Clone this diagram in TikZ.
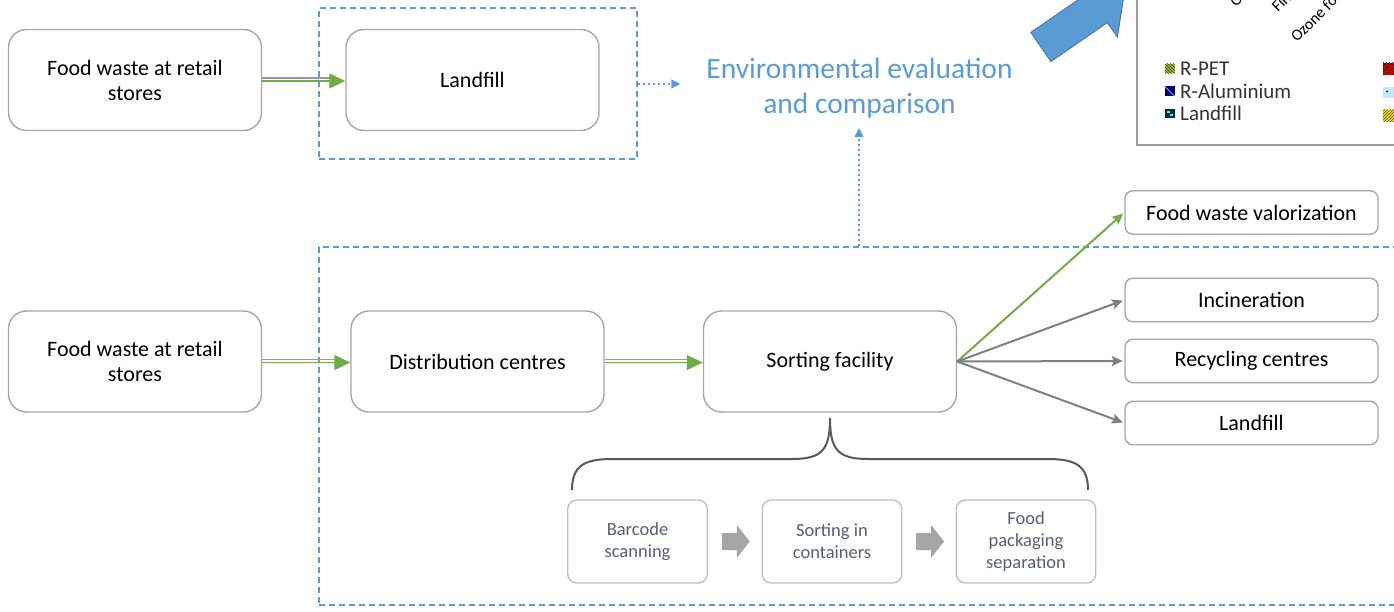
\documentclass[tikz,border=0pt]{standalone}
\usepackage{fontspec}
\setmainfont{Carlito}
\usetikzlibrary{arrows.meta,patterns,calc}
\definecolor{boxgray}{HTML}{A6A6A6}
\definecolor{lightbox}{HTML}{BFBFBF}
\definecolor{dblue}{HTML}{5B9BD5}
\definecolor{agreen}{HTML}{70AD47}
\definecolor{agray}{HTML}{7F7F7F}
\definecolor{stepgray}{HTML}{A5A5A5}
\definecolor{steptext}{HTML}{556070}
\definecolor{bracegray}{HTML}{595959}
\definecolor{arrowedge}{HTML}{41719C}
\definecolor{framegray}{HTML}{9E9E9E}
\definecolor{legtext}{HTML}{333333}
\begin{document}
\begin{tikzpicture}[x=1pt,y=-1pt,
  mainbox/.style={draw=boxgray, line width=1.4pt, rounded corners=18pt, fill=white,
    minimum width=253pt, minimum height=101pt, inner sep=0pt, align=center,
    font=\fontsize{22}{25}\selectfont},
  sidebox/.style={draw=boxgray, line width=1.4pt, rounded corners=8pt, fill=white,
    minimum width=253pt, minimum height=43.5pt, inner sep=0pt, align=center,
    font=\fontsize{22}{25}\selectfont},
  stepbox/.style={draw=lightbox, line width=1.4pt, rounded corners=9pt, fill=white,
    minimum width=139.5pt, minimum height=83pt, inner sep=0pt, align=center,
    text=steptext, font=\fontsize{18.5}{22}\selectfont},
  frame/.style={draw=dblue, line width=1.3pt, dash pattern=on 6pt off 4pt, inner sep=0pt},
  dotarrow/.style={draw=dblue, line width=1.1pt, dash pattern=on 2.5pt off 2.5pt,
    -{Triangle[length=9pt,width=9pt,fill=dblue]}},
  fangray/.style={draw=agray, line width=2pt, shorten >=1.5pt,
    -{Stealth[length=11pt,width=10pt,inset=2pt]}},
  fangreen/.style={draw=agreen, line width=2pt, shorten >=1.5pt,
    -{Stealth[length=11pt,width=10pt,inset=2pt]}},
  dgray/.style={draw=agray!80, line width=1.3pt},
  dgreen/.style={draw=agreen, line width=1.3pt, -{Triangle[length=16pt,width=15pt]}},
  legend/.style={anchor=base west, inner sep=0pt, text=legtext, font=\fontsize{21}{24}\selectfont},
  rotlabel/.style={anchor=base west, inner sep=0pt, rotate=45, font=\fontsize{16}{18}\selectfont}
]
\useasboundingbox (0,0) rectangle (1394,612);
\clip (0,0) rectangle (1394,612);

% ---------- chart fragment (top right) ----------
\draw[framegray, line width=2.2pt] (1137,-5) -- (1137,145) -- (1400,145);
\node[rotlabel] (oz1) at (1236,8) {Oz};
\node[rotlabel] (fin) at (1278,13) {Fin};
\node[rotlabel] (oz2) at (1297,43) {Ozone for};
% legend squares
\fill[olive!55!green!70!white] (1165,64) rectangle (1174.5,73.5);
\fill[pattern=north west lines, pattern color=olive!60!black] (1165,64) rectangle (1174.5,73.5);
\fill[blue!40!black] (1165,86.5) rectangle (1174.5,96);
\draw[blue!40!white, line width=1pt] (1165,86.5) -- (1174.5,96);
\fill[teal!40!black] (1165,109) rectangle (1174.5,118.5);
\fill[cyan!50!white] (1167,111) rectangle (1169.5,113.5);
\fill[cyan!50!white] (1170,114) rectangle (1172.5,116.5);
\node[legend] (lpet) at (1180,76) {R-PET};
\node[legend] (lal) at (1180,98.5) {R-Aluminium};
\node[legend] (llf) at (1180,121) {Landfill};
\fill[red] (1383,63) rectangle (1400,75);
\fill[pattern=north east lines, pattern color=black] (1383,63) rectangle (1400,75);
\fill[cyan!25!white] (1383,87) rectangle (1400,98);
\fill[blue!50!black] (1387,91.5) circle (1pt);
\fill[yellow!80!orange] (1383,110) rectangle (1400,122);
\fill[pattern=north east lines, pattern color=black!70] (1383,110) rectangle (1400,122);

% blue block arrow
\filldraw[fill=dblue, draw=arrowedge, line width=0.8pt]
  (1030.8,32.4) -- (1050.9,61.6) -- (1107.4,22.6) -- (1117.4,37.2) -- (1125,-11)
  -- (1077.3,-21.2) -- (1087.3,-6.6) -- cycle;

% ---------- frames ----------
\node[frame, minimum width=318pt, minimum height=151pt] (topframe) at (478,83.5) {};
\node[frame, minimum width=1111pt, minimum height=358pt] (bigframe) at (874.5,426) {};

% ---------- top row ----------
\node[mainbox] (fw1) at (135,80) {Food waste at retail\\stores};
\node[mainbox] (lf1) at (472.5,80) {Landfill};
\node[align=center, text=dblue, inner ysep=0pt, inner xsep=26pt,
      font=\fontsize{29.5}{35}\selectfont] (env) at (859.5,88) {Environmental evaluation\\and comparison};
\coordinate (envtip) at (859,128);

\draw[dgray] ([yshift=2pt]fw1.east) -- ([yshift=2pt,xshift=-14pt]lf1.west);
\draw[dgreen] ([yshift=-1pt]fw1.east) -- ([yshift=-1pt]lf1.west);
\draw[dotarrow] ([yshift=-0.5pt]topframe.east) -- ([yshift=-0.5pt]topframe.east -| env.west);
\draw[dotarrow] (bigframe.north -| envtip) -- (envtip);

% ---------- bottom row ----------
\node[mainbox] (fw2) at (135,361.5) {Food waste at retail\\stores};
\node[mainbox] (dc) at (477.5,361.5) {Distribution centres};
\node[mainbox] (sf) at (830,361.5) {Sorting facility};

\node[sidebox] (val) at (1251.5,212.5) {Food waste valorization};
\node[sidebox] (inc) at (1251.5,300) {Incineration};
\node[sidebox] (rec) at (1251.5,361) {Recycling centres};
\node[sidebox] (lf2) at (1251.5,423) {Landfill};

\draw[dgray] ([yshift=2pt]fw2.east) -- ([yshift=2pt,xshift=-14pt]dc.west);
\draw[dgreen] ([yshift=-1pt]fw2.east) -- ([yshift=-1pt]dc.west);
\draw[dgray] ([yshift=2pt]dc.east) -- ([yshift=2pt,xshift=-14pt]sf.west);
\draw[dgreen] ([yshift=-1pt]dc.east) -- ([yshift=-1pt]sf.west);

\draw[fangreen] (sf.east) -- (val.west);
\draw[fangray] (sf.east) -- (inc.west);
\draw[fangray] (sf.east) -- (rec.west);
\draw[fangray] (sf.east) -- (lf2.west);

% ---------- brace and sorting steps ----------
\draw[bracegray, line width=2pt]
  (572,490) .. controls (572,466) and (584,459) .. (612,459) -- (792,459)
  .. controls (822,459) and (830,450) .. (830,418)
  .. controls (830,450) and (838,459) .. (868,459) -- (1048,459)
  .. controls (1076,459) and (1088,466) .. (1088,490);

\node[stepbox] (s1) at (637.5,541.5) {Barcode\\scanning};
\node[stepbox] (s2) at (832,541.5) {Sorting in\\containers};
\node[stepbox] (s3) at (1026,541.5) {Food\\packaging\\separation};

\path ($(s1.east)!0.5!(s2.west)$) coordinate (m1);
\path ($(s2.east)!0.5!(s3.west)$) coordinate (m2);
\foreach \m in {m1,m2}{
  \fill[stepgray] ([shift={(-13,-8.5)}]\m) -- ([shift={(2,-8.5)}]\m) -- ([shift={(2,-16.5)}]\m)
    -- ([shift={(15,0)}]\m) -- ([shift={(2,16.5)}]\m) -- ([shift={(2,8.5)}]\m)
    -- ([shift={(-13,8.5)}]\m) -- cycle;
}
\end{tikzpicture}
\end{document}
